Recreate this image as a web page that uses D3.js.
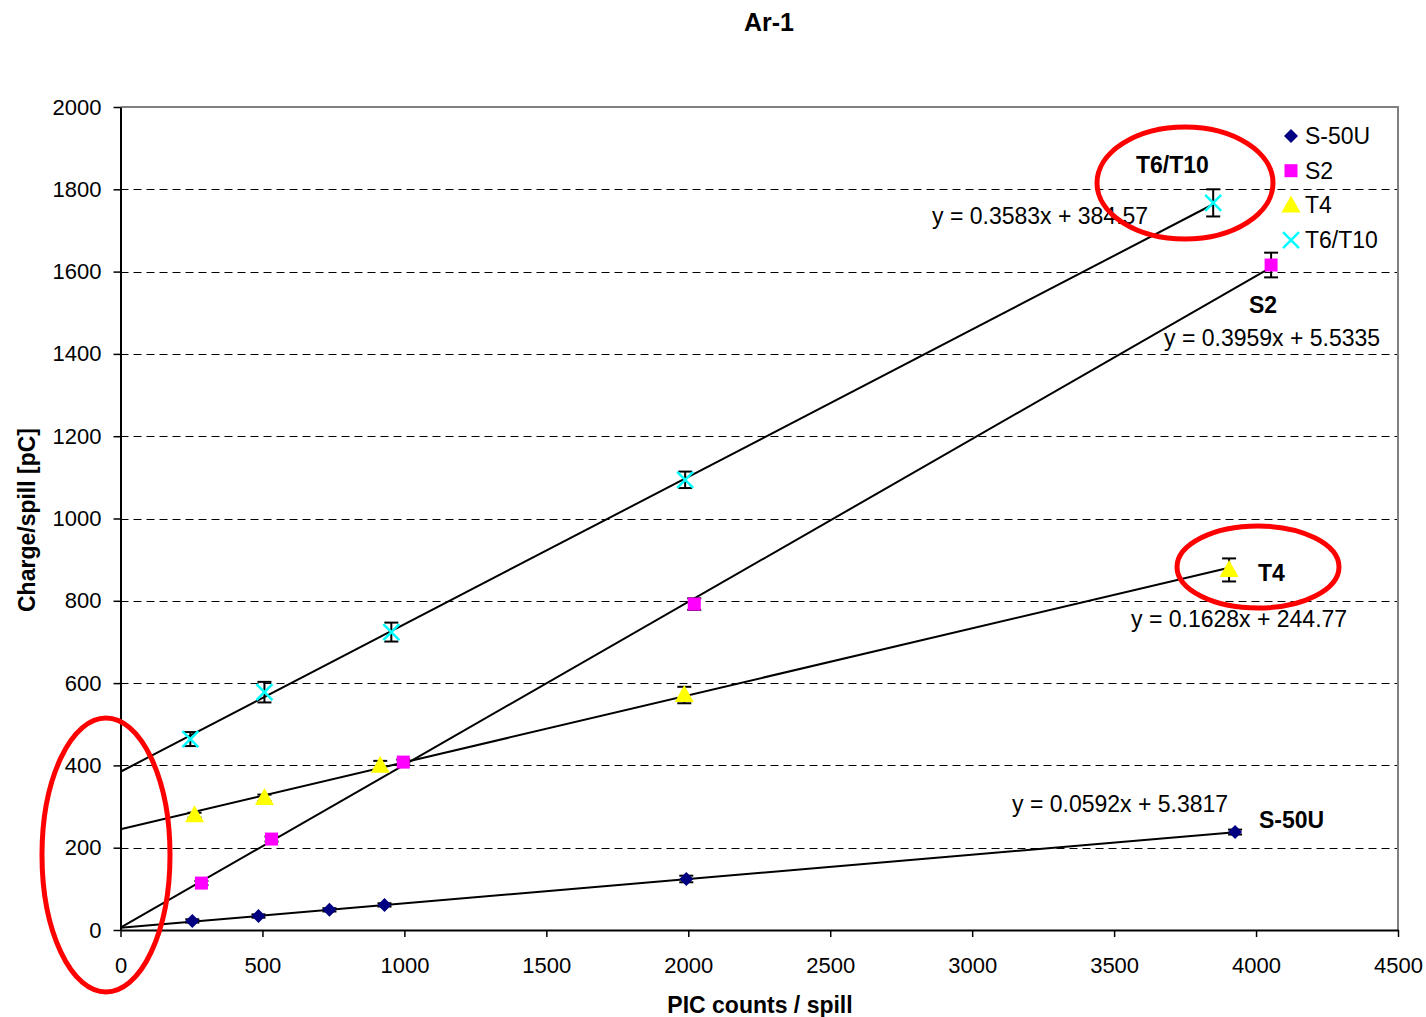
<!DOCTYPE html>
<html lang="en">
<head>
<meta charset="UTF-8">
<title>Ar-1</title>
<script src="https://d3js.org/d3.v7.min.js"></script>
<style>
  body { margin: 0; background: #fff; }
  text { font-family: "Liberation Sans", Arial, sans-serif; }
</style>
</head>
<body>
<script>
const width = 1426, height = 1017;

const seriesNames = ["S-50U", "S2", "T4", "T6/T10"];

// PIC counts / spill
const s50uX = [253, 486, 736, 930, 1993, 3926];
const s2X = [285, 532, 996, 2021, 4053];
const t4X = [261, 507, 915, 1986, 3905];
const t6X = [246, 507, 954, 1989, 3849];

// Charge/spill [pC]
const s50uY = [22, 34, 49, 61, 124, 238];
const s2Y = [114, 221, 408, 792, 1616];
const t4Y = [279, 321, 399, 571, 875];
const t6Y = [464, 578, 724, 1094, 1767];

// error bars (+/-)
const s50uErr = [4, 4, 4, 4, 8, 6];
const s2Err = [5, 6, 6, 14, 30];
const t4Err = [6, 8, 12, 20, 28];
const t6Err = [17, 25, 23, 20, 33];

// trend lines
const slopes = [0.0592, 0.3959, 0.1628, 0.3583];
const intercepts = [5.3817, 5.5335, 244.77, 384.57];
const equations = ["y = 0.0592x + 5.3817", "y = 0.3959x + 5.5335", "y = 0.1628x + 244.77", "y = 0.3583x + 384.57"];

const xTicks = [0, 500, 1000, 1500, 2000, 2500, 3000, 3500, 4000, 4500];
const yTicks = [0, 200, 400, 600, 800, 1000, 1200, 1400, 1600, 1800, 2000];

const series = [
  { name: seriesNames[0], x: s50uX, y: s50uY, err: s50uErr, symbol: "diamond" },
  { name: seriesNames[1], x: s2X, y: s2Y, err: s2Err, symbol: "square" },
  { name: seriesNames[2], x: t4X, y: t4Y, err: t4Err, symbol: "triangle" },
  { name: seriesNames[3], x: t6X, y: t6Y, err: t6Err, symbol: "cross" }
];

const svg = d3.select("body").append("svg")
  .attr("width", width)
  .attr("height", height);

const x = d3.scaleLinear().domain([0, 4500]).range([120.5, 1398]);
const y = d3.scaleLinear().domain([0, 2000]).range([930, 107]);

// gridlines
svg.append("g")
  .selectAll("line")
  .data(yTicks.filter(d => d > 0 && d < 2000))
  .enter().append("line")
  .attr("x1", x(0)).attr("x2", x(4500))
  .attr("y1", d => Math.round(y(d)) + 0.5).attr("y2", d => Math.round(y(d)) + 0.5)
  .attr("stroke", "#000").attr("stroke-width", 1)
  .attr("stroke-dasharray", "8,5");

// plot frame (top / right)
svg.append("path")
  .attr("d", `M${x(0)},${y(2000)}H${x(4500)}V${y(0)}`)
  .attr("fill", "none").attr("stroke", "#808080").attr("stroke-width", 2);

// axes
const xAxis = svg.append("g")
  .attr("transform", `translate(0,${y(0)})`)
  .call(d3.axisBottom(x).tickValues(xTicks).tickFormat(d3.format("d")).tickSize(7).tickSizeOuter(0));
const yAxis = svg.append("g")
  .attr("transform", `translate(${x(0)},0)`)
  .call(d3.axisLeft(y).tickValues(yTicks).tickFormat(d3.format("d")).tickSize(7).tickSizeOuter(0));

[xAxis, yAxis].forEach(a => {
  a.select(".domain").attr("stroke", "#000").attr("stroke-width", 2);
  a.selectAll(".tick line").attr("stroke", "#000").attr("stroke-width", 1.5);
  a.selectAll(".tick text")
    .attr("font-family", "Liberation Sans, Arial, sans-serif")
    .attr("font-size", 22).attr("fill", "#000");
});
xAxis.selectAll(".tick text").attr("y", 21).attr("dy", "1em");
yAxis.selectAll(".tick text").attr("x", -19);

// trend lines
const line = d3.line().x(d => x(d[0])).y(d => y(d[1]));
svg.append("g")
  .selectAll("path")
  .data(series)
  .enter().append("path")
  .attr("d", (s, i) => {
    const xMax = d3.max(s.x);
    return line([[0, intercepts[i]], [xMax, slopes[i] * xMax + intercepts[i]]]);
  })
  .attr("fill", "none").attr("stroke", "#000").attr("stroke-width", 2);

// error bars
const errG = svg.append("g").attr("stroke", "#000").attr("stroke-width", 2);
series.forEach(s => {
  s.x.forEach((xv, i) => {
    const cx = x(xv), top = y(s.y[i] + s.err[i]), bot = y(s.y[i] - s.err[i]);
    errG.append("line").attr("x1", cx).attr("x2", cx).attr("y1", top).attr("y2", bot);
    errG.append("line").attr("x1", cx - 7).attr("x2", cx + 7).attr("y1", top).attr("y2", top);
    errG.append("line").attr("x1", cx - 7).attr("x2", cx + 7).attr("y1", bot).attr("y2", bot);
  });
});

// markers
function drawMarker(g, symbol, cx, cy) {
  if (symbol === "diamond") {
    g.append("path").attr("d", `M${cx},${cy - 7}L${cx + 7},${cy}L${cx},${cy + 7}L${cx - 7},${cy}Z`)
      .attr("fill", "#000080");
  } else if (symbol === "square") {
    g.append("rect").attr("x", cx - 6.5).attr("y", cy - 6.5).attr("width", 13).attr("height", 13)
      .attr("fill", "#FF00FF");
  } else if (symbol === "triangle") {
    g.append("path").attr("d", `M${cx},${cy - 10}L${cx + 9.5},${cy + 7}L${cx - 9.5},${cy + 7}Z`)
      .attr("fill", "#FFFF00");
  } else {
    g.append("path").attr("d", `M${cx - 8},${cy - 8}L${cx + 8},${cy + 8}M${cx - 8},${cy + 8}L${cx + 8},${cy - 8}`)
      .attr("stroke", "#00FFFF").attr("stroke-width", 2.5).attr("fill", "none");
  }
}
const markG = svg.append("g");
series.forEach(s => {
  s.x.forEach((xv, i) => drawMarker(markG, s.symbol, x(xv), y(s.y[i])));
});

// legend
const legend = svg.append("g");
series.forEach((s, i) => {
  const ly = 136 + i * 34.7;
  drawMarker(legend, s.symbol, 1291, ly);
  legend.append("text").attr("x", 1305).attr("y", ly + 8)
    .attr("font-size", 23).text(s.name);
});

// equation labels
const eqPos = [[1012, 812], [1164, 346], [1131, 627], [932, 224]];
svg.append("g").selectAll("text")
  .data(equations)
  .enter().append("text")
  .attr("x", (d, i) => eqPos[i][0]).attr("y", (d, i) => eqPos[i][1])
  .attr("font-size", 23).text(d => d);

// series name labels
const namePos = [[1259, 828], [1249, 313], [1258, 581], [1136, 173]];
svg.append("g").selectAll("text")
  .data(seriesNames)
  .enter().append("text")
  .attr("x", (d, i) => namePos[i][0]).attr("y", (d, i) => namePos[i][1])
  .attr("font-size", 23).attr("font-weight", "bold").text(d => d);

// titles
svg.append("text").attr("x", 769).attr("y", 31).attr("text-anchor", "middle")
  .attr("font-size", 25).attr("font-weight", "bold").text("Ar-1");
svg.append("text").attr("x", 760).attr("y", 1013).attr("text-anchor", "middle")
  .attr("font-size", 23).attr("font-weight", "bold").text("PIC counts / spill");
svg.append("text").attr("transform", "translate(35,520) rotate(-90)").attr("text-anchor", "middle")
  .attr("font-size", 23).attr("font-weight", "bold").text("Charge/spill [pC]");

// red highlight ellipses
const ellipses = [[1185, 183, 88, 56], [1258, 567, 81, 41], [106, 855, 64, 137]];
svg.append("g").selectAll("ellipse")
  .data(ellipses)
  .enter().append("ellipse")
  .attr("cx", d => d[0]).attr("cy", d => d[1]).attr("rx", d => d[2]).attr("ry", d => d[3])
  .attr("fill", "none").attr("stroke", "#FF0000").attr("stroke-width", 5);
</script>
</body>
</html>
